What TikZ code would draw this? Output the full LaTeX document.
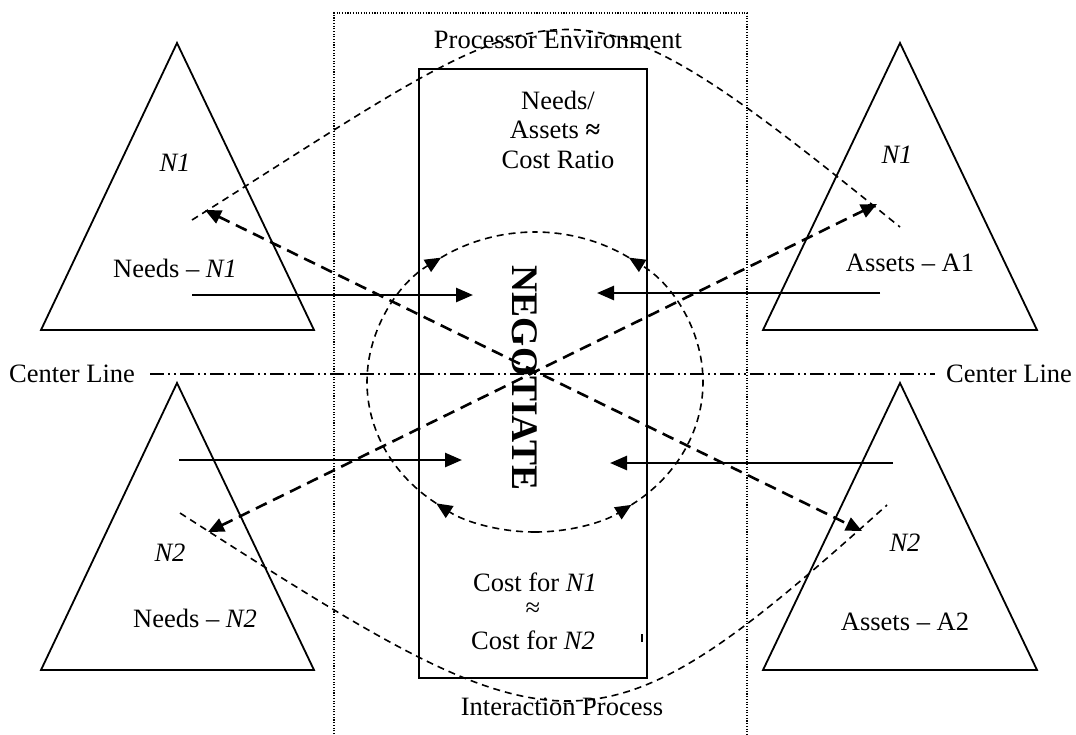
\documentclass[tikz,border=0pt]{standalone}
\usepackage{fontspec}
\setmainfont{Liberation Serif}
\usetikzlibrary{arrows.meta,calc}

\begin{document}
\begin{tikzpicture}[x=1pt,y=1pt,
  tri/.style={line width=1.8pt, line join=miter},
  lbl/.style={font=\fontsize{26.5}{30}\selectfont, inner sep=0pt},
  flow/.style={line width=2.6pt, -{Triangle[length=17pt,width=14pt]}},
  link/.style={line width=2.6pt, dash pattern=on 12pt off 7pt,
    {Triangle[length=16pt,width=14pt]}-{Triangle[length=16pt,width=14pt]}},
  thindash/.style={line width=1.6pt, dash pattern=on 7pt off 5pt},
  loophead/.style={thindash, -{Triangle[length=16pt,width=14pt]}},
  centreline/.style={line width=1.6pt, dash pattern=on 14pt off 4pt on 2pt off 4pt on 2pt off 4pt},
  dotline/.style={line width=1.1pt, dash pattern=on 1.1pt off 1.6pt},
  er/.style={x radius=168pt, y radius=150pt}
]
\useasboundingbox (0,0) rectangle (1076,-734);

% processor environment (dotted frame, open at the bottom)
\draw[dotline] (334,-734) -- (334,-13) -- (747,-13) -- (747,-734);
\node[lbl] (penv) at (558,-40) {Processor Environment};
\node[lbl] (iproc) at (562,-707) {Interaction Process};

% negotiation box
\draw[line width=2pt] (419,-69) rectangle (647,-678);
\node[lbl] (r1) at (558,-100) {Needs/};
\node[lbl] (r2) at (555,-130) {Assets \textbf{≈}};
\node[lbl] (r3) at (558,-160) {Cost Ratio};
\node[lbl] (c1) at (535,-582) {Cost for \textit{N1}};
\node[lbl] (c2) at (533,-610) {≈};
\node[lbl] (c3) at (533,-640) {Cost for \textit{N2}};
\draw[line width=1.4pt] (642,-634) -- (642,-642);
\node[rotate=-90, inner sep=0pt, font=\bfseries\fontsize{37.5}{37.5}\selectfont] (neg) at (525,-378) {NEGOTIATE};

% the four parties
\coordinate (tlA) at (177,-43);  \coordinate (tlB) at (41,-330);  \coordinate (tlC) at (314,-330);
\coordinate (trA) at (900,-43);  \coordinate (trB) at (763,-330); \coordinate (trC) at (1037,-330);
\coordinate (blA) at (177,-383); \coordinate (blB) at (41,-670);  \coordinate (blC) at (314,-670);
\coordinate (brA) at (900,-383); \coordinate (brB) at (763,-670); \coordinate (brC) at (1037,-670);
\draw[tri] (tlA) -- (tlB) -- (tlC) -- cycle;
\draw[tri] (trA) -- (trB) -- (trC) -- cycle;
\draw[tri] (blA) -- (blB) -- (blC) -- cycle;
\draw[tri] (brA) -- (brB) -- (brC) -- cycle;

\node[lbl] (tlN) at (175,-163) {\textit{N1}};
\node[lbl] (tlT) at (175,-268) {Needs – \textit{N1}};
\node[lbl] (trN) at (897,-155) {\textit{N1}};
\node[lbl] (trT) at (910,-263) {Assets – A1};
\node[lbl] (blN) at (170,-553) {\textit{N2}};
\node[lbl] (blT) at (195,-618) {Needs – \textit{N2}};
\node[lbl] (brN) at (905,-543) {\textit{N2}};
\node[lbl] (brT) at (905,-622) {Assets – A2};

% centre line
\coordinate (clL) at (150,-374);
\coordinate (clR) at (935,-374);
\draw[centreline] (clL) -- (clR);
\node[lbl] (clTL) at (72,-374) {Center Line};
\node[lbl] (clTR) at (1009,-374) {Center Line};

% needs and assets flowing into the negotiation
\coordinate (f1s) at (192,-295); \coordinate (f1e) at (473,-295);
\coordinate (f2s) at (880,-293); \coordinate (f2e) at (597,-293);
\coordinate (f3s) at (179,-460); \coordinate (f3e) at (462,-460);
\coordinate (f4s) at (893,-463); \coordinate (f4e) at (610,-463);
\draw[flow] (f1s) -- (f1e);
\draw[flow] (f2s) -- (f2e);
\draw[flow] (f3s) -- (f3e);
\draw[flow] (f4s) -- (f4e);

% cross links between the parties
\coordinate (x1a) at (205,-210); \coordinate (x1b) at (862,-531);
\coordinate (x2a) at (208,-532); \coordinate (x2b) at (877,-204);
\draw[link] (x1a) -- (x1b);
\draw[link] (x2a) -- (x2b);

% outer arcs
\coordinate (u1) at (192,-220); \coordinate (u2) at (900,-227);
\coordinate (d1) at (180,-513); \coordinate (d2) at (887,-505);
\draw[thindash] (u1) .. controls (574,20) and (557,50) .. (u2);
\draw[thindash] (d1) .. controls (564,-760) and (592,-770) .. (d2);

% negotiation loop
\coordinate (ec) at (535,-382);
\draw[loophead] ($(ec)+(-90:168pt and 150pt)$) arc[start angle=-90, end angle=-126, er];
\draw[loophead] ($(ec)+(-126:168pt and 150pt)$) arc[start angle=-126, end angle=-236, er];
\draw[thindash] ($(ec)+(-236:168pt and 150pt)$) arc[start angle=-236, end angle=-270, er];
\draw[loophead] ($(ec)+(-90:168pt and 150pt)$) arc[start angle=-90, end angle=-55, er];
\draw[loophead] ($(ec)+(-55:168pt and 150pt)$) arc[start angle=-55, end angle=56, er];
\draw[thindash] ($(ec)+(56:168pt and 150pt)$) arc[start angle=56, end angle=90, er];
\end{tikzpicture}
\end{document}
